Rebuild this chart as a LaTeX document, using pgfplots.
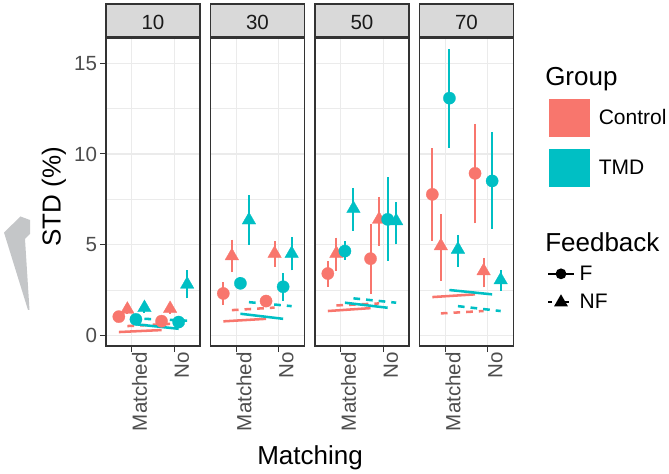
\documentclass[border=0pt]{standalone}
\usepackage{fontspec}
\setmainfont{Liberation Sans}
\usepackage{pgfplots}
\pgfplotsset{compat=1.18}

\definecolor{ctrl}{HTML}{F8766D}
\definecolor{tmd}{HTML}{00BFC4}
\definecolor{grey10}{HTML}{1A1A1A}
\definecolor{grey20}{HTML}{333333}
\definecolor{grey30}{HTML}{4D4D4D}
\definecolor{grey85}{HTML}{D9D9D9}
\definecolor{grey92}{HTML}{EBEBEB}
\definecolor{smudge}{HTML}{C4C6C8}

\newcommand{\tickfont}{\fontsize{15.4}{17}\selectfont}
\newcommand{\titlefont}{\fontsize{19.5}{22}\selectfont}
\newcommand{\legfont}{\fontsize{15.75}{18}\selectfont}

\pgfplotsset{
  panel/.style={
    scale only axis, width=70.5pt, height=231pt, anchor=south west,
    xmin=0.4, xmax=2.6, ymin=-0.6, ymax=16.4,
    xtick={1,2}, xticklabels={Matched,No},
    ytick={0,5,10,15}, minor ytick={2.5,7.5,12.5},
    grid=both,
    major grid style={grey92, line width=0.9pt},
    minor grid style={grey92, line width=0.5pt},
    axis line style={grey20, line width=0.8pt},
    tick style={grey20, line width=0.8pt},
    major tick length=4.5pt, minor tick length=0pt,
    tick align=outside, xtick pos=left, ytick pos=left,
    /pgf/number format/assume math mode=true,
    ticklabel style={font=\tickfont, text=grey30},
    x tick label style={rotate=90, anchor=north east, inner sep=0pt},
    y tick label style={inner sep=2pt},
  },
  inner/.style={panel, yticklabels={}, y tick style={draw=none}},
  cline/.style={ctrl, line width=1.9pt, no marks},
  tline/.style={tmd, line width=1.9pt, no marks},
  dsh/.style={dash pattern=on 5pt off 4.5pt},
  pts/.style={only marks, line width=1.5pt,
    mark options={solid, line width=0.2pt},
    error bars/y dir=both, error bars/y explicit,
    error bars/error bar style={line width=1.5pt, solid},
    error bars/error mark options={line width=1.5pt, mark size=1.7pt}},
  cf/.style={pts, ctrl, mark=*, mark size=4.6pt},
  cnf/.style={pts, ctrl, mark=triangle*, mark size=5.9pt},
  tf/.style={pts, tmd, mark=*, mark size=4.6pt},
  tnf/.style={pts, tmd, mark=triangle*, mark size=5.9pt},
}

\begin{document}
\begin{tikzpicture}[x=0.75pt, y=-0.75pt]

% grey mark at the left edge
\fill[smudge] (4,232.5) -- (20.5,216.5) -- (30,220) -- (30,234) -- (25,239) -- (29.5,310) -- (28,310) -- cycle;

% panel 10
\begin{axis}[panel, at={(79.5pt,-259.5pt)}]
\addplot[cline] coordinates {(0.7,0.17) (1.7,0.28)};
\addplot[cline, dsh] coordinates {(0.9,0.50) (1.9,0.62)};
\addplot[tline] coordinates {(1.1,0.60) (2.1,0.35)};
\addplot[tline, dsh] coordinates {(1.3,0.90) (2.3,0.80)};
\addplot[cf] coordinates {(0.7,1.02) +- (0,0.12) (1.7,0.77) +- (0,0.10)};
\addplot[cnf] coordinates {(0.9,1.42) +- (0,0.15) (1.9,1.46) +- (0,0.15)};
\addplot[tf] coordinates {(1.1,0.87) +- (0,0.10) (2.1,0.72) +- (0,0.10)};
\addplot[tnf] coordinates {(1.3,1.51) +- (0,0.15) (2.3,2.80) +- (0,0.65)};
\end{axis}

% panel 30
\begin{axis}[inner, at={(157.875pt,-259.5pt)}]
\addplot[cline] coordinates {(0.7,0.76) (1.7,0.90)};
\addplot[cline, dsh] coordinates {(0.9,1.38) (1.9,1.52)};
\addplot[tline] coordinates {(1.1,1.18) (2.1,0.90)};
\addplot[tline, dsh] coordinates {(1.3,1.82) (2.3,1.60)};
\addplot[cf] coordinates {(0.7,2.30) +- (0,0.50) (1.7,1.88) +- (0,0.12)};
\addplot[cnf] coordinates {(0.9,4.37) +- (0,0.77) (1.9,4.50) += (0,0.55) -= (0,0.60)};
\addplot[tf] coordinates {(1.1,2.86) +- (0,0.20) (2.1,2.67) += (0,0.63) -= (0,0.67)};
\addplot[tnf] coordinates {(1.3,6.35) +- (0,1.25) (2.3,4.50) +- (0,0.80)};
\end{axis}

% panel 50
\begin{axis}[inner, at={(236.25pt,-259.5pt)}]
\addplot[cline] coordinates {(0.7,1.33) (1.7,1.49)};
\addplot[cline, dsh] coordinates {(0.9,1.64) (1.9,1.75)};
\addplot[tline] coordinates {(1.1,1.79) (2.1,1.51)};
\addplot[tline, dsh] coordinates {(1.3,2.03) (2.3,1.79)};
\addplot[cf] coordinates {(0.7,3.40) += (0,0.56) -= (0,0.60) (1.7,4.22) += (0,1.80) -= (0,1.82)};
\addplot[cnf] coordinates {(0.9,4.50) += (0,0.75) -= (0,0.83) (1.9,6.39) += (0,1.11) -= (0,1.34)};
\addplot[tf] coordinates {(1.1,4.64) += (0,0.41) -= (0,0.36) (2.1,6.39) += (0,2.21) -= (0,2.17)};
\addplot[tnf] coordinates {(1.3,6.98) += (0,1.02) -= (0,1.10) (2.3,6.30) += (0,0.92) -= (0,1.16)};
\end{axis}

% panel 70
\begin{axis}[inner, at={(314.625pt,-259.5pt)}]
\addplot[cline] coordinates {(0.7,2.10) (1.7,2.25)};
\addplot[cline, dsh] coordinates {(0.9,1.20) (1.9,1.33)};
\addplot[tline] coordinates {(1.1,2.49) (2.1,2.25)};
\addplot[tline, dsh] coordinates {(1.3,1.60) (2.3,1.33)};
\addplot[cf] coordinates {(0.7,7.77) +- (0,2.43) (1.7,8.93) += (0,2.60) -= (0,2.63)};
\addplot[cnf] coordinates {(0.9,4.92) += (0,1.62) -= (0,1.80) (1.9,3.54) += (0,0.60) -= (0,0.78)};
\addplot[tf] coordinates {(1.1,13.08) += (0,2.58) -= (0,2.60) (2.1,8.51) += (0,2.58) -= (0,2.52)};
\addplot[tnf] coordinates {(1.3,4.73) += (0,0.68) -= (0,0.83) (2.3,3.04) += (0,0.44) -= (0,0.48)};
\end{axis}

% strips
\foreach \l/\lab in {106/10, 210.5/30, 315/50, 419.5/70} {
  \draw[grey20, fill=grey85, line width=0.8pt] (\l,4) rectangle ++(94,33);
  \node[anchor=base, font=\tickfont, text=grey10, inner sep=0pt] at (\l+47,30) {\lab};
}

% axis titles
\node[rotate=90, anchor=base, font=\titlefont, inner sep=0pt] at (60.5,197) {STD (\%)};
\node[anchor=base, font=\titlefont, inner sep=0pt] at (310,465) {Matching};

% legends
\node[anchor=base west, font=\titlefont, inner sep=0pt] at (545,85.5) {Group};
\node[anchor=base west, font=\titlefont, inner sep=0pt] at (545,252) {Feedback};

\begin{axis}[hide axis, scale only axis, width=1pt, height=1pt,
  xmin=0, xmax=1, ymin=0, ymax=1, anchor=north west,
  at={(411.75pt,-74.25pt)},
  legend cell align=left,
  legend style={at={(0,1)}, anchor=north west, draw=none, fill=none,
    inner sep=0pt, row sep=9.2pt, column sep=6.75pt, font=\legfont,
    nodes={inner sep=0pt}},
  legend image code/.code={\fill[#1] (0pt,-13.9pt) rectangle (30pt,13.9pt);}]
\addlegendimage{ctrl}
\addlegendentry{Control}
\addlegendimage{tmd}
\addlegendentry{TMD}
\end{axis}

\begin{axis}[hide axis, scale only axis, width=1pt, height=1pt,
  xmin=0, xmax=1, ymin=0, ymax=1, anchor=north west,
  at={(410pt,-199pt)},
  legend cell align=left,
  legend style={at={(0,1)}, anchor=north west, draw=none, fill=none,
    inner sep=0pt, row sep=9pt, column sep=3.5pt, font=\legfont,
    nodes={inner sep=0pt}},
  legend image code/.code={\draw[mark repeat=2, mark phase=2, #1] plot coordinates {(0pt,0pt) (9.75pt,0pt) (19.5pt,0pt)};}]
\addlegendimage{black, line width=1.6pt, mark=*, mark size=3.2pt, mark options={solid}}
\addlegendentry{F}
\addlegendimage{black, line width=1.6pt, dash pattern=on 3pt off 3.5pt, mark=triangle*, mark size=4.4pt, mark options={solid}}
\addlegendentry{NF}
\end{axis}

\pgfresetboundingbox
\useasboundingbox (0,0) rectangle (669,474);
\end{tikzpicture}
\end{document}
